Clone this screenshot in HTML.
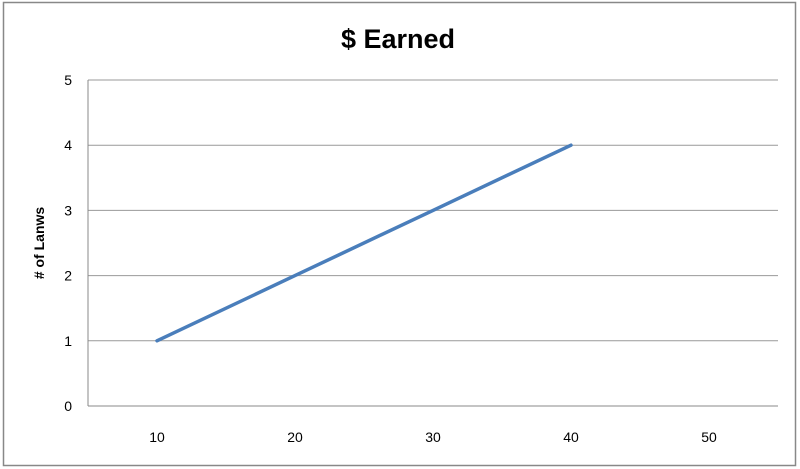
<!DOCTYPE html>
<html><head><style>
body{margin:0;background:#fff;}
svg{display:block;font-family:"Liberation Sans",sans-serif;}
</style></head><body>
<svg id="c" width="800" height="469">
<rect x="3.5" y="2.5" width="792" height="463" fill="#fff" stroke="#888" stroke-width="1.5"/>
<text x="398" y="48" text-anchor="middle" font-size="27" font-weight="bold" fill="#000">$ Earned</text>
<text transform="translate(44,243) rotate(-90)" text-anchor="middle" font-size="14" font-weight="bold"># of Lanws</text>
<g id="grid"></g><g id="series"></g>
</svg>
<script>
const categories=["10","20","30","40","50"];
const values=[1,2,3,4,null];
const yTicks=[0,1,2,3,4,5];
const L=88,R=778,T=80,B=406,yMax=5;
const ns="http://www.w3.org/2000/svg";
const x=i=>L+(R-L)/categories.length*(i+0.5);
const y=v=>B-(B-T)*v/yMax;
const g=document.getElementById('grid'),s=document.getElementById('series');
function mk(tag,a,p){const e=document.createElementNS(ns,tag);for(const k in a)e.setAttribute(k,a[k]);p.appendChild(e);return e;}
yTicks.forEach(v=>{
 const ln=mk('line',{x1:L,x2:R,y1:y(v),y2:y(v),stroke:v===0?'#888':'#999','stroke-width':1},g);
 
 
 const t=mk('text',{x:72,y:y(v)+5,'text-anchor':'end','font-size':14,fill:'#000'},g);
 t.textContent=v;
 
 
});
const ax=mk('line',{x1:L,x2:L,y1:T,y2:B,stroke:'#888','stroke-width':1},g);


categories.forEach((c,i)=>{
 const t=mk('text',{x:x(i),y:442,'text-anchor':'middle','font-size':14,fill:'#000'},g);
 t.textContent=c;
 
 
});
const pts=values.map((v,i)=>v==null?null:x(i)+','+y(v)).filter(p=>p);
const pl=mk('polyline',{points:pts.join(' '),fill:'none',stroke:'#4a7ebb','stroke-width':3.5,'stroke-linecap':'round'},s);


</script>
</body></html>
